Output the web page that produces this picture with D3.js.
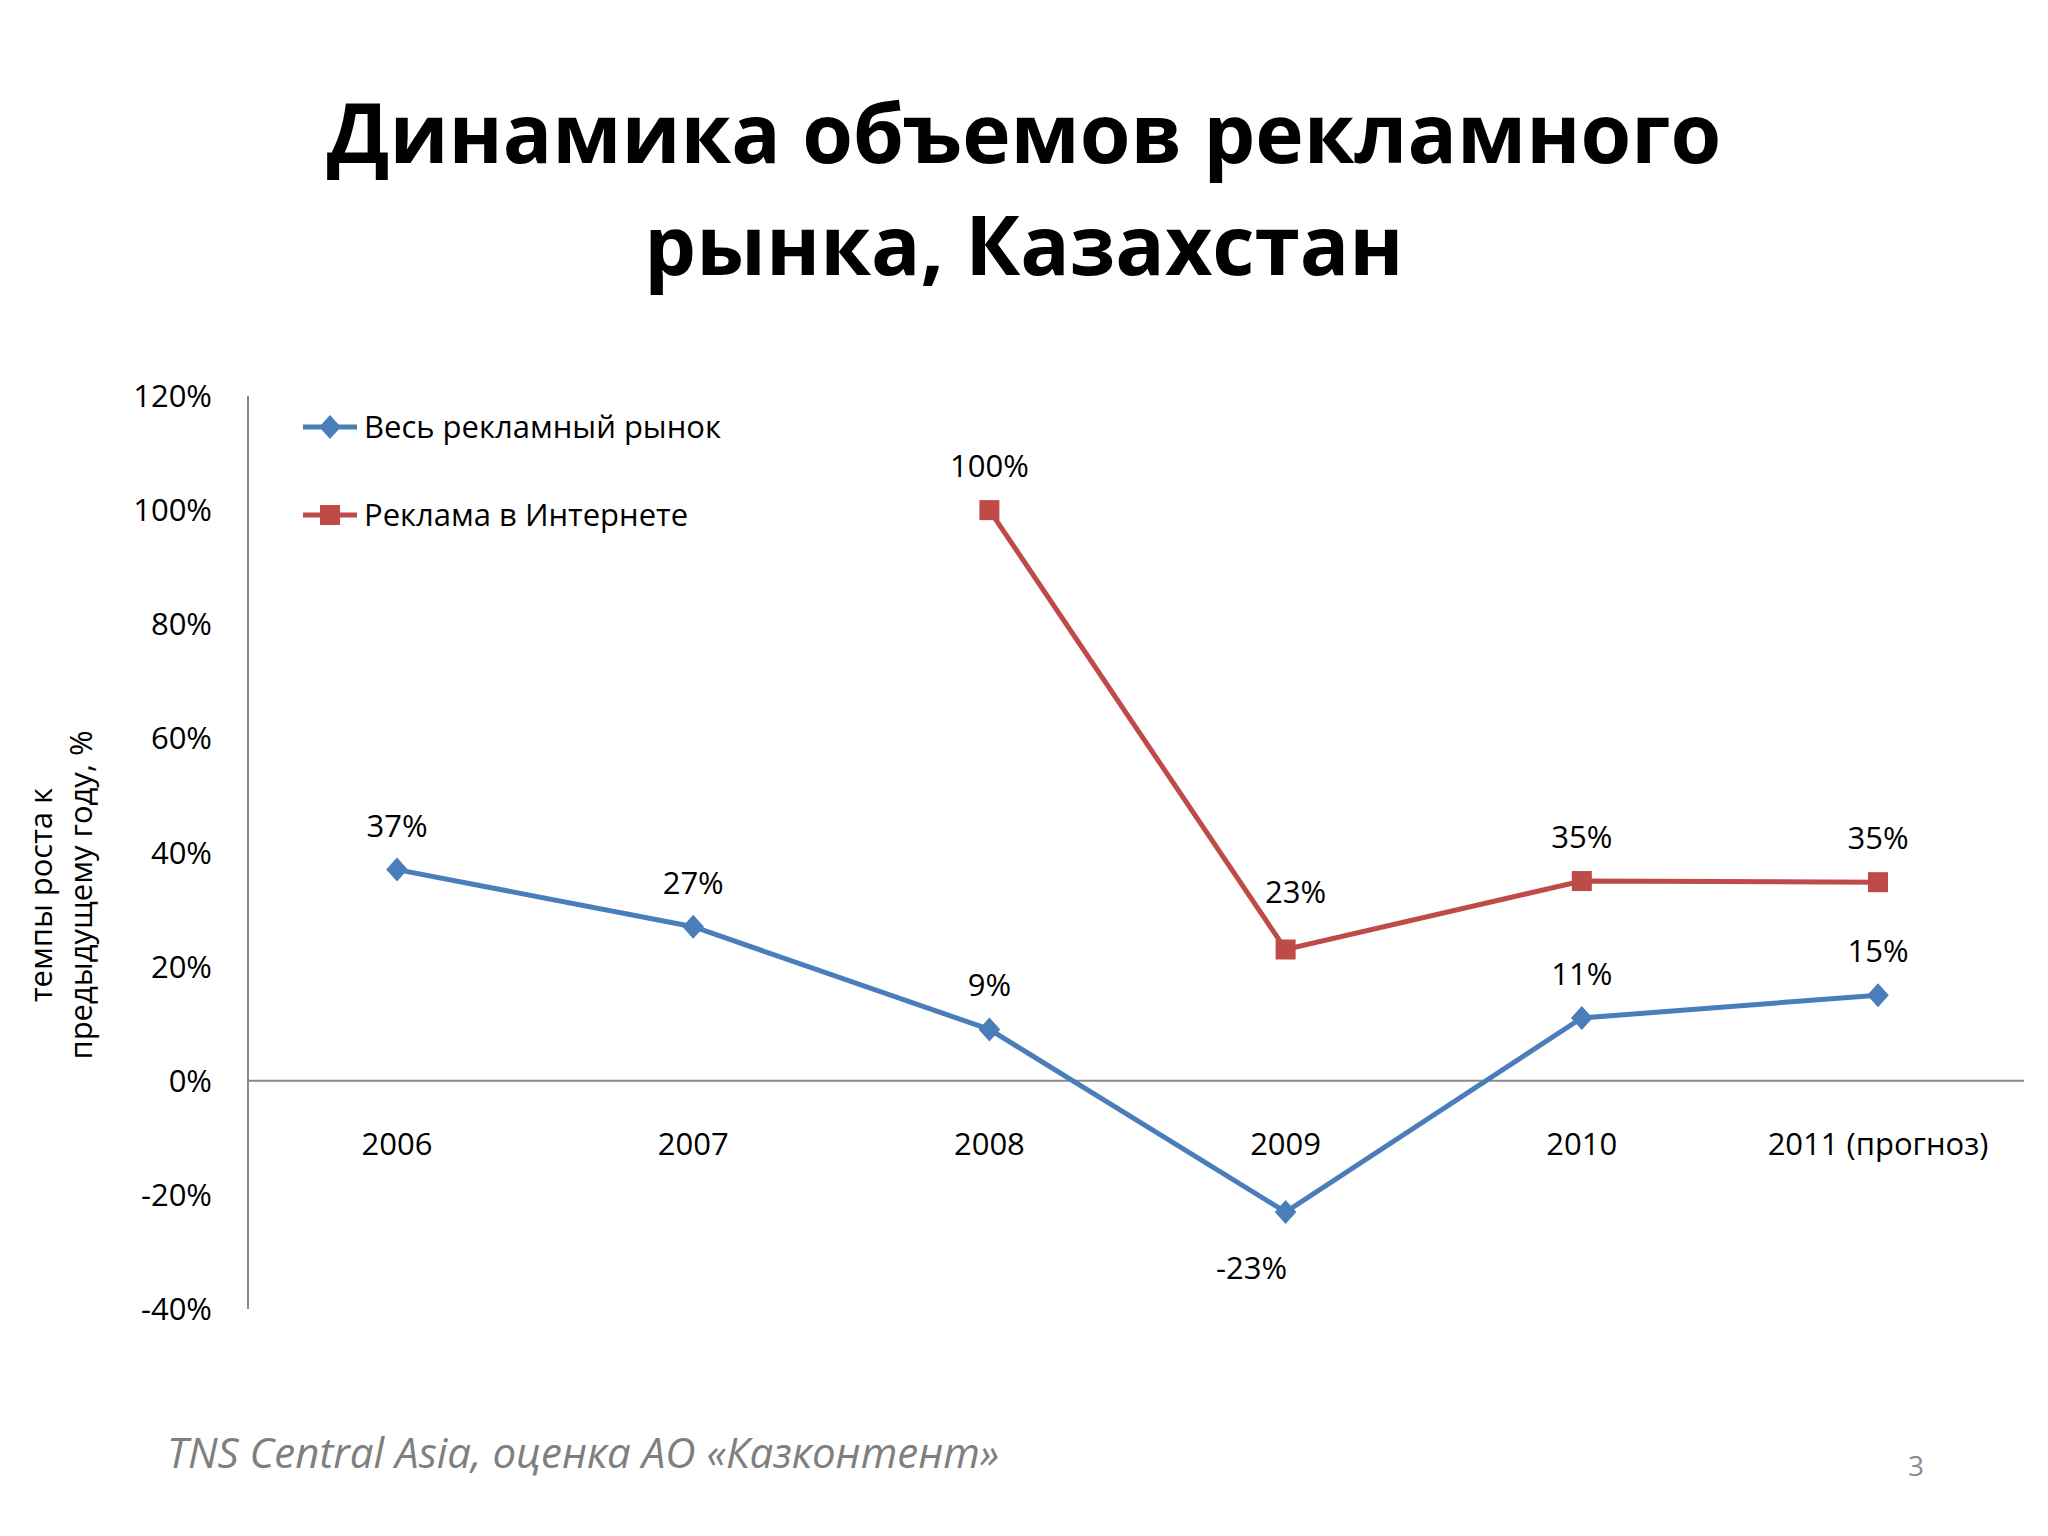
<!DOCTYPE html>
<html><head><meta charset="utf-8">
<script src="https://cdn.jsdelivr.net/npm/d3@7"></script>
<style>body{margin:0;background:#fff}svg{display:block}text{font-family:"Open Sans",sans-serif}</style>
</head><body><svg id="c" width="2048" height="1536"></svg>
<script>
// Data
const categories = ['2006', '2007', '2008', '2009', '2010', '2011 (прогноз)'];
const totalMarket = [37, 27, 9, -23, 11, 15];
const internetAds = [null, null, 100, 23, 35, 34.8];
const internetLabels = [null, null, '100%', '23%', '35%', '35%'];
const yTicks = [-40, -20, 0, 20, 40, 60, 80, 100, 120];

const svg = d3.select('#c');
const plotLeft = 248, plotRight = 2024, plotTop = 396, plotBottom = 1309;

svg.append('text').attr('x', 1024).attr('y', 163).attr('text-anchor', 'middle')
  .attr('font-size', 82).attr('font-weight', 'bold').text('Динамика объемов рекламного');
svg.append('text').attr('x', 1024).attr('y', 275).attr('text-anchor', 'middle')
  .attr('font-size', 82).attr('font-weight', 'bold').text('рынка, Казахстан');

const x = d3.scalePoint().domain(categories).range([397, 1878]);
const y = d3.scaleLinear().domain([-40, 120]).range([plotBottom, plotTop]);

// y axis
svg.append('line').attr('x1', plotLeft).attr('x2', plotLeft).attr('y1', plotTop).attr('y2', plotBottom)
  .attr('stroke', '#888').attr('stroke-width', 2);
svg.selectAll('.yt').data(yTicks).join('text')
  .attr('x', 212).attr('y', d => y(d) + 11).attr('text-anchor', 'end')
  .attr('font-size', 31).text(d => d + '%');
// zero line
svg.append('line').attr('x1', plotLeft).attr('x2', plotRight).attr('y1', y(0)).attr('y2', y(0))
  .attr('stroke', '#888').attr('stroke-width', 2);
svg.selectAll('.xt').data(categories).join('text')
  .attr('x', d => x(d)).attr('y', y(0) + 74).attr('text-anchor', 'middle')
  .attr('font-size', 31).text(d => d);

// axis title
const yt = svg.append('text').attr('transform', 'translate(72,895) rotate(-90)')
  .attr('text-anchor', 'middle').attr('font-size', 31)
  .attr('font-family', '"DejaVu Sans Condensed","Liberation Sans Narrow",sans-serif');
yt.append('tspan').attr('x', 0).attr('dy', -20).text('темпы роста к');
yt.append('tspan').attr('x', 0).attr('dy', 40).text('предыдущему году, %');

const line = d3.line().defined(d => d[1] != null).x(d => x(d[0])).y(d => y(d[1]));

const blue = '#4a7ebb', red = '#be4b48';
const bData = categories.map((c, i) => [c, totalMarket[i]]);
const rData = categories.map((c, i) => [c, internetAds[i]]);

svg.append('path').datum(rData).attr('d', line).attr('fill', 'none').attr('stroke', red).attr('stroke-width', 5);
svg.append('path').datum(bData).attr('d', line).attr('fill', 'none').attr('stroke', blue).attr('stroke-width', 5);

const diamond = d3.symbol().type(d3.symbolDiamond).size(260);
svg.selectAll('.bm').data(bData).join('path')
  .attr('d', diamond).attr('fill', blue)
  .attr('transform', d => `translate(${x(d[0])},${y(d[1])}) scale(1.25,0.8)`);
svg.selectAll('.rm').data(rData.filter(d => d[1] != null)).join('rect')
  .attr('x', d => x(d[0]) - 10).attr('y', d => y(d[1]) - 10).attr('width', 20).attr('height', 20)
  .attr('fill', red);

// labels
svg.selectAll('.bl').data(bData).join('text')
  .attr('x', d => d[1] < 0 ? x(d[0]) - 34 : x(d[0]))
  .attr('y', d => d[1] < 0 ? y(d[1]) + 67 : y(d[1]) - 33)
  .attr('text-anchor', 'middle').attr('font-size', 31).text(d => Math.round(d[1]) + '%');
svg.selectAll('.rl').data(rData.filter(d => d[1] != null)).join('text')
  .attr('x', d => x(d[0]) + (d[0] === '2009' ? 10 : 0))
  .attr('y', (d) => y(d[1]) - 33 - (d[0] === '2009' ? 14 : 0))
  .attr('text-anchor', 'middle').attr('font-size', 31)
  .text(d => internetLabels[categories.indexOf(d[0])]);

// legend
const legend = [['Весь рекламный рынок', blue, 'd'], ['Реклама в Интернете', red, 's']];
legend.forEach((l, i) => {
  const ly = 427 + i * 88;
  svg.append('line').attr('x1', 303).attr('x2', 357).attr('y1', ly).attr('y2', ly)
    .attr('stroke', l[1]).attr('stroke-width', 5);
  if (l[2] === 'd') svg.append('path').attr('d', diamond).attr('fill', l[1])
    .attr('transform', `translate(330,${ly}) scale(1.25,0.8)`);
  else svg.append('rect').attr('x', 320).attr('y', ly - 10).attr('width', 20).attr('height', 20).attr('fill', l[1]);
  svg.append('text').attr('x', 364).attr('y', ly + 11).attr('font-size', 31).text(l[0]);
});

svg.append('text').attr('x', 167).attr('y', 1468).attr('font-size', 42).attr('font-style', 'italic')
  .attr('fill', '#7f7f7f').text('TNS Central Asia, оценка АО «Казконтент»');
svg.append('text').attr('x', 1916).attr('y', 1476).attr('text-anchor', 'middle').attr('font-size', 28)
  .attr('fill', '#8c8c8c').text('3');
</script></body></html>
